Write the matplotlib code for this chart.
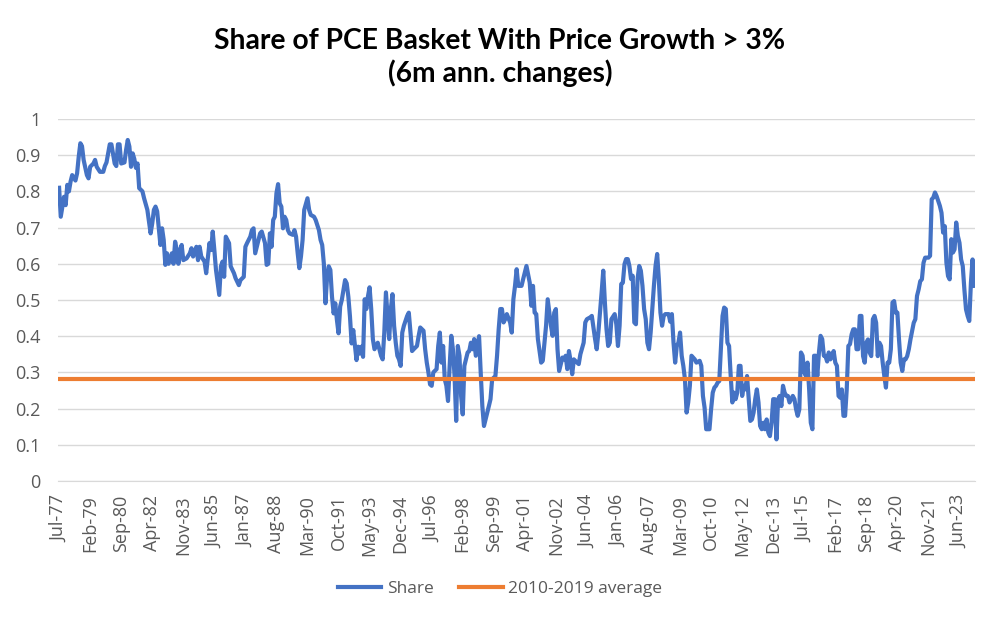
import numpy as np
import pandas as pd
import matplotlib
matplotlib.use("Agg")
import matplotlib.pyplot as plt

# monthly categories, Jul-1977 .. Mar-2024
months = pd.date_range("1977-07-01", "2024-03-01", freq="MS")

# readings taken off the chart: month offset from Jul-77 and share value
obs_idx = [
    0, 1, 3, 4, 5, 6, 7, 8, 10, 11, 12, 13, 14, 15, 17, 18, 19, 21, 22, 23,
    25, 27, 28, 29, 31, 32, 34, 35, 36, 37, 38, 40, 41, 42, 43, 44, 45, 46, 47, 48,
    49, 51, 52, 54, 55, 56, 57, 58, 59, 60, 61, 62, 63, 64, 65, 66, 67, 69, 70, 71,
    72, 73, 74, 75, 76, 78, 80, 81, 82, 84, 85, 86, 87, 89,
    90, 92, 93, 94, 95, 96, 98, 99, 100, 101, 102, 104, 105, 107, 108, 110, 111, 113, 114, 115,
    117, 118, 119, 120, 121, 123, 124, 126, 127, 128, 129, 130, 131, 132, 133, 134, 135, 136, 137, 138,
    139, 140, 141, 143, 144, 145, 146, 147, 148, 149, 150, 152, 153, 154, 156, 157, 159, 160, 161, 162,
    163, 164, 165, 166, 167, 168, 169, 170, 171, 172, 173, 175, 176, 177, 178, 179, 180, 182, 183, 184,
    185, 186,
    187, 188, 189, 190, 191, 192, 193, 195, 196, 197, 198, 199, 200, 201, 202, 203, 204, 205, 206, 207,
    208, 209, 210, 211, 213, 214, 216, 217, 219, 220, 221, 223, 224, 225, 226, 227, 228, 229, 231, 232,
    233, 234, 235, 236, 237, 238, 239, 240, 241, 242, 243, 244, 245, 246, 247, 248, 249, 250, 251, 252,
    253, 254, 255, 257, 258, 259, 260, 261, 263, 264, 265, 267, 268, 269, 270, 271, 272, 273, 274, 276,
    277, 278, 279,
    280, 281, 283, 284, 286, 288, 289, 290, 291, 292, 293, 295, 296, 298, 299, 300, 301, 302, 303, 304,
    305, 306, 308, 309, 310, 311, 312, 313, 314, 315, 317, 318, 319, 321, 322, 323, 325, 326, 328, 329,
    330, 331, 332, 333, 334, 335, 336, 337, 338, 340, 341, 342, 343, 344, 345, 346, 347, 348, 349, 350,
    351, 352, 353, 354, 355, 356, 357, 358, 359, 360, 361, 362, 363, 364, 365, 366, 367, 368, 369, 370,
    371, 373,
    374, 375, 376, 377, 378, 379, 380, 381, 382, 383, 384, 385, 386, 387, 388, 389, 390, 392, 393, 394,
    395, 396, 397, 398, 399, 400, 401, 402, 403, 404, 405, 406, 407, 408, 409, 410, 411, 412, 413, 414,
    415, 416, 417, 418, 419, 420, 421, 422, 423, 424, 425, 426, 427, 428, 429, 430, 431, 432, 433, 434,
    435, 436, 437, 438, 439, 440, 441, 442, 443, 444, 445, 446, 447, 448, 449, 450, 451, 452, 453, 454,
    455, 456, 457, 458, 459, 460, 461, 462, 463, 464, 465, 466, 467, 468, 469, 470,
    471, 472, 473, 474, 475, 476, 477, 478, 479, 480, 481, 482, 483, 484, 485, 486, 487, 488, 489, 490,
    491, 492, 493, 494, 495, 496, 497, 498, 499, 500, 501, 502, 503, 504, 505, 506, 507, 508, 509, 510,
    511, 512, 513, 514, 515, 516, 517, 518, 519, 520, 521, 522, 523, 524, 525, 526, 527, 528, 529, 530,
    532, 533, 534, 535, 536, 537, 538, 539, 540, 541, 542, 543, 544, 545, 546, 547, 548, 549, 550, 551,
    552, 553, 554, 555, 556, 557, 558, 559, 560,
]
share = [
    .81, .73, .785, .762, .818, .80, .827, .845, .83, .85, .896, .933, .925, .887, .845, .836, .868, .877, .887, .868,
    .854, .854, .87, .88, .93, .93, .877, .87, .93, .93, .877, .88, .915, .942, .924, .868, .905, .89, .865, .877,
    .809, .80, .781, .749, .716, .684, .712, .749, .758, .745, .698, .652, .698, .666, .597, .629, .60, .629, .60, .661,
    .638, .60, .638, .652, .61, .615, .629, .643, .62, .647, .61, .647, .62, .606,
    .574, .657, .638, .689, .638, .583, .514, .593, .606, .564, .675, .657, .593, .574, .56, .541, .555, .564, .647, .657,
    .675, .693, .698, .629, .647, .684, .689, .657, .597, .60, .684, .647, .721, .73, .795, .82, .767, .758, .698, .73,
    .721, .693, .684, .68, .693, .675, .629, .588, .62, .666, .749, .781, .749, .735, .73, .721, .693, .666, .652, .601,
    .491, .564, .593, .583, .509, .463, .491, .445, .408, .482, .50, .555, .546, .509, .454, .38, .417, .334, .371, .352,
    .371, .343,
    .502, .475, .51, .535, .475, .392, .364, .382, .364, .346, .336, .41, .521, .456, .392, .475, .516, .429, .382, .346,
    .336, .318, .41, .429, .456, .465, .359, .364, .373, .40, .424, .415, .364, .327, .30, .267, .263, .30, .309, .373,
    .41, .327, .373, .281, .263, .221, .318, .401, .364, .29, .166, .373, .346, .235, .184, .318, .336, .355, .359, .382,
    .364, .392, .346, .40, .30, .207, .152, .17, .207, .226, .281, .29, .346, .419, .475, .475, .438, .447, .461, .438,
    .41, .502, .539,
    .585, .539, .539, .558, .594, .548, .484, .539, .465, .461, .392, .327, .332, .429, .502, .465, .429, .401, .465, .475,
    .364, .304, .341, .336, .346, .309, .359, .332, .295, .336, .327, .323, .35, .382, .438, .447, .452, .456, .392, .364,
    .41, .465, .521, .581, .493, .419, .373, .382, .447, .461, .433, .373, .429, .544, .548, .599, .613, .613, .594, .558,
    .567, .438, .433, .558, .594, .581, .539, .475, .447, .382, .364, .41, .475, .539, .594, .627, .558, .465, .429, .456,
    .461, .461,
    .44, .461, .382, .327, .373, .382, .41, .346, .318, .281, .189, .217, .263, .346, .341, .336, .327, .332, .318, .235,
    .203, .143, .143, .143, .198, .244, .258, .263, .272, .276, .364, .456, .479, .475, .382, .373, .29, .217, .244, .226,
    .244, .318, .318, .235, .263, .253, .29, .226, .166, .17, .189, .226, .253, .217, .152, .143, .161, .143, .17, .134,
    .124, .161, .226, .226, .115, .226, .235, .207, .263, .244, .235, .235, .217, .226, .235, .226, .198, .18, .198, .355,
    .346, .30, .29, .327, .253, .161, .143, .346, .346, .29, .355, .401, .392, .346, .345, .33,
    .355, .336, .345, .359, .327, .318, .235, .23, .253, .18, .18, .253, .373, .378, .405, .419, .419, .364, .364, .456,
    .456, .345, .327, .382, .391, .355, .345, .447, .456, .437, .345, .382, .373, .327, .29, .258, .327, .327, .364, .493,
    .497, .465, .465, .391, .327, .304, .336, .336, .345, .364, .391, .414, .437, .447, .511, .529, .552, .557, .603, .617,
    .617, .622, .778, .783, .797, .787, .773, .76, .741, .686, .704, .603, .566, .557, .668, .631, .64, .714, .677, .658,
    .612, .594, .529, .474, .456, .442, .548, .612, .539,
]
avg_2010_2019 = 0.281

tick_step = 19
tick_pos = list(range(0, len(months), tick_step))
tick_labels = [months[i].strftime("%b-%y") for i in tick_pos]

blue = "#4472C4"
orange = "#ED7D31"
grey_text = "#595959"
grid_col = "#D9D9D9"

fig = plt.figure(figsize=(10, 6.22), dpi=100)
ax = fig.add_axes([0.0583, 0.2267, 0.9167, 0.582])

ax.plot(obs_idx, share, color=blue, lw=3, label="Share", solid_joinstyle="round")
ax.plot(np.arange(len(months)), [avg_2010_2019] * len(months), color=orange, lw=3,
        label="2010-2019 average")

ax.set_xlim(-0.5, len(months) - 0.5)
ax.set_ylim(0, 1)
ax.set_yticks(np.arange(0, 1.01, 0.1))
ax.set_yticklabels(["0", "0.1", "0.2", "0.3", "0.4", "0.5", "0.6", "0.7", "0.8", "0.9", "1"])
ax.set_xticks(tick_pos)
ax.set_xticklabels(tick_labels, rotation=90)
ax.grid(axis="y", color=grid_col, lw=1)
ax.set_axisbelow(True)
for s in ["top", "right", "left"]:
    ax.spines[s].set_visible(False)
ax.spines["bottom"].set_color(grid_col)
ax.tick_params(axis="both", length=0, colors=grey_text, labelsize=13)
ax.tick_params(axis="y", pad=13)
ax.tick_params(axis="x", pad=10)
for lab in ax.get_xticklabels() + ax.get_yticklabels():
    lab.set_family("Open Sans")

fig.text(0.5, 0.908, "Share of PCE Basket With Price Growth > 3%\n(6m ann. changes)",
         ha="center", va="center", fontsize=20.3, fontweight="bold", family="Lato",
         linespacing=1.25, color="black")

leg = fig.legend(loc="center", bbox_to_anchor=(0.5, 0.053), ncol=2, frameon=False,
                 handlelength=2.5, handletextpad=0.3, columnspacing=1.5,
                 prop={"family": "Open Sans", "size": 12.5})
for t in leg.get_texts():
    t.set_color(grey_text)

fig.savefig("out.png", dpi=100)
